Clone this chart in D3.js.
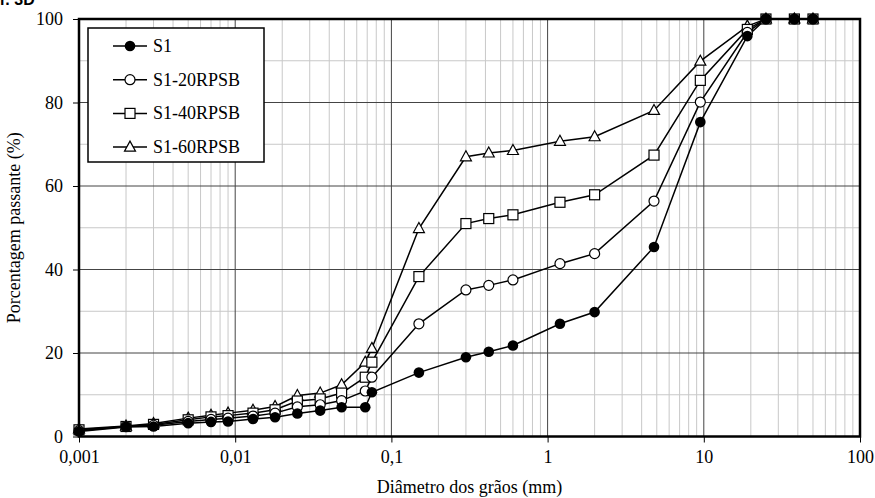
<!DOCTYPE html>
<html>
<head>
<meta charset="utf-8">
<script src="https://cdn.jsdelivr.net/npm/d3@7/dist/d3.min.js"></script>
<style>
html,body{margin:0;padding:0;background:#fff;}
svg{display:block;}
</style>
</head>
<body>
<svg id="chart" width="875" height="498"></svg>
<script>
// Grain diameters (mm)
const diameters = [0.001, 0.002, 0.003, 0.005, 0.007, 0.009, 0.013, 0.018, 0.025, 0.035, 0.048, 0.068,
                   0.075, 0.15, 0.3, 0.42, 0.6, 1.2, 2.0, 4.8, 9.5, 19, 25, 38, 50];
// Percent passing for each series
const s1     = [1.2, 2.3, 2.4, 3.2, 3.5, 3.6, 4.2, 4.6, 5.5, 6.2, 7.0, 7.0,
                10.6, 15.3, 19.0, 20.3, 21.8, 27.0, 29.8, 45.4, 75.3, 95.9, 100, 100, 100];
const s1_20  = [1.4, 2.4, 2.7, 3.6, 4.1, 4.4, 4.9, 5.6, 7.1, 7.6, 8.6, 10.9,
                14.2, 27.0, 35.1, 36.2, 37.5, 41.4, 43.8, 56.4, 80.1, 96.8, 100, 100, 100];
const s1_40  = [1.6, 2.4, 2.9, 4.0, 4.7, 5.0, 5.6, 6.4, 8.5, 9.0, 10.4, 14.2,
                17.8, 38.3, 51.0, 52.2, 53.1, 56.1, 57.9, 67.4, 85.3, 97.5, 100, 100, 100];
const s1_60  = [1.8, 2.5, 3.1, 4.4, 5.1, 5.6, 6.3, 7.2, 9.8, 10.4, 12.4, 17.8,
                21.1, 49.8, 67.0, 67.9, 68.5, 70.7, 71.8, 78.1, 89.9, 98.3, 100, 100, 100];
const seriesNames = ["S1", "S1-20RPSB", "S1-40RPSB", "S1-60RPSB"];
const markerTypes = ["filledCircle", "openCircle", "openSquare", "openTriangle"];
const xTickValues = [0.001, 0.01, 0.1, 1, 10, 100];
const xTickLabels = ["0,001", "0,01", "0,1", "1", "10", "100"];
const yTickValues = [0, 20, 40, 60, 80, 100];

const allSeries = [s1, s1_20, s1_40, s1_60];
const SERIF = "'Liberation Serif', 'DejaVu Serif', serif";

const svg = d3.select("#chart");
const L = 79, R = 860, T = 19, B = 436.5;
const x = d3.scaleLog().domain([0.001, 100]).range([L, R]);
const y = d3.scaleLinear().domain([0, 100]).range([B, T]);

// title fragment (cropped at top of image, as in the source)
svg.append("text").attr("x", 0).attr("y", 5)
  .attr("font-family", "'Liberation Sans', Arial, sans-serif").attr("font-weight", "bold")
  .attr("font-size", 16).text("r. 3D");

// grid
const g = svg.append("g");
const minorX = [];
for (let e = -3; e < 2; e++) for (let k = 2; k <= 9; k++) minorX.push(k * Math.pow(10, e));
g.selectAll(".mx").data(minorX).enter().append("line")
  .attr("x1", d => x(d)).attr("x2", d => x(d)).attr("y1", T).attr("y2", B)
  .attr("stroke", "#c8c8c8").attr("stroke-width", 1);
g.selectAll(".my").data([10, 30, 50, 70, 90]).enter().append("line")
  .attr("x1", L).attr("x2", R).attr("y1", d => y(d)).attr("y2", d => y(d))
  .attr("stroke", "#c8c8c8").attr("stroke-width", 1);
g.selectAll(".Mx").data(xTickValues.slice(1, -1)).enter().append("line")
  .attr("x1", d => x(d)).attr("x2", d => x(d)).attr("y1", T).attr("y2", B)
  .attr("stroke", "#444").attr("stroke-width", 1);
g.selectAll(".My").data(yTickValues.slice(1, -1)).enter().append("line")
  .attr("x1", L).attr("x2", R).attr("y1", d => y(d)).attr("y2", d => y(d))
  .attr("stroke", "#444").attr("stroke-width", 1);

// axes
const xAxis = d3.axisBottom(x).tickValues(xTickValues).tickFormat((d, i) => xTickLabels[i]).tickSize(6).tickPadding(8);
const yAxis = d3.axisLeft(y).tickValues(yTickValues).tickSize(6).tickPadding(10);
const xa = svg.append("g").attr("transform", `translate(0,${B})`).call(xAxis);
const ya = svg.append("g").attr("transform", `translate(${L},0)`).call(yAxis);
[xa, ya].forEach(a => {
  a.attr("font-family", SERIF).attr("font-size", 18);
  a.select(".domain").remove();
  a.selectAll("line").attr("stroke", "#000").attr("stroke-width", 1);
  a.selectAll("text").attr("fill", "#000");
});

// lines
const line = d3.line().x((d, i) => x(diameters[i])).y(d => y(d));
allSeries.forEach(s => {
  svg.append("path").datum(s).attr("d", line).attr("fill", "none")
    .attr("stroke", "#000").attr("stroke-width", 1.5);
});

function drawMarker(sel, type, cx, cy) {
  if (type === "filledCircle") {
    sel.append("circle").attr("cx", cx).attr("cy", cy).attr("r", 5.3).attr("fill", "#000");
  } else if (type === "openCircle") {
    sel.append("circle").attr("cx", cx).attr("cy", cy).attr("r", 5).attr("fill", "#fff").attr("stroke", "#000").attr("stroke-width", 1.2);
  } else if (type === "openSquare") {
    sel.append("rect").attr("x", cx - 5).attr("y", cy - 5).attr("width", 10).attr("height", 10).attr("fill", "#fff").attr("stroke", "#000").attr("stroke-width", 1.2);
  } else {
    const h = 10, w = 11;
    sel.append("path").attr("d", `M${cx},${cy - h * 0.6}L${cx + w / 2},${cy + h * 0.4}L${cx - w / 2},${cy + h * 0.4}Z`)
      .attr("fill", "#fff").attr("stroke", "#000").attr("stroke-width", 1.2);
  }
}

const mg = svg.append("g");
[3, 2, 1, 0].forEach(si => {
  allSeries[si].forEach((v, i) => drawMarker(mg, markerTypes[si], x(diameters[i]), y(v)));
});

// plot border
svg.append("rect").attr("x", L).attr("y", T).attr("width", R - L).attr("height", B - T)
  .attr("fill", "none").attr("stroke", "#000").attr("stroke-width", 2.5);

// legend
const lg = svg.append("g");
lg.append("rect").attr("x", 88).attr("y", 28).attr("width", 176).attr("height", 134)
  .attr("fill", "#fff").attr("stroke", "#000").attr("stroke-width", 1.5);
seriesNames.forEach((name, i) => {
  const ly = 46 + i * 33.7;
  lg.append("line").attr("x1", 113).attr("x2", 147).attr("y1", ly).attr("y2", ly).attr("stroke", "#000").attr("stroke-width", 1.5);
  drawMarker(lg, markerTypes[i], 130, ly);
  lg.append("text").attr("x", 153).attr("y", ly + 6).attr("font-family", SERIF).attr("font-size", 18).text(name);
});

// axis titles
svg.append("text").attr("x", (L + R) / 2).attr("y", 493).attr("text-anchor", "middle")
  .attr("font-family", SERIF).attr("font-size", 18).text("Diâmetro dos grãos (mm)");
svg.append("text").attr("transform", `translate(20,${(T + B) / 2}) rotate(-90)`).attr("text-anchor", "middle")
  .attr("font-family", SERIF).attr("font-size", 18).text("Porcentagem passante (%)");
</script>
</body>
</html>
